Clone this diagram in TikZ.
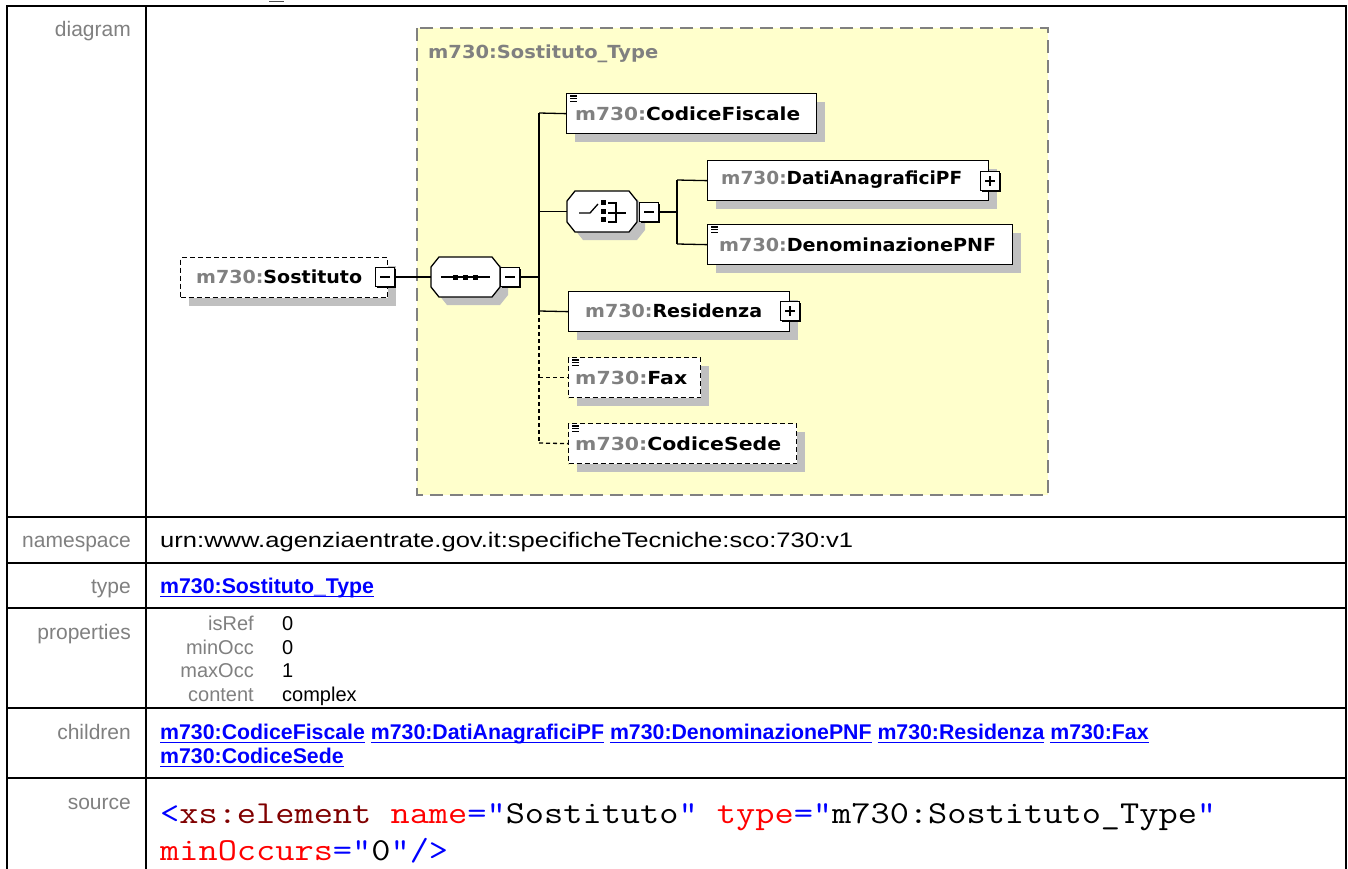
\documentclass[tikz,border=0pt]{standalone}
\usepackage{fontspec}
\usepackage{graphicx}
\setmainfont{Liberation Sans}
\newfontfamily\dfont{DejaVu Sans}
\usetikzlibrary{shadows}
\definecolor{lblgray}{HTML}{808080}
\definecolor{ybg}{HTML}{FFFFCC}
\definecolor{shgray}{HTML}{C0C0C0}
\definecolor{linkblue}{HTML}{0000FF}
\definecolor{xmaroon}{HTML}{800000}
\definecolor{xred}{HTML}{FF0000}
\newcommand{\pfx}{{\color{lblgray}m730:}}
\newcommand{\lnk}[1]{\underline{\smash{#1}\vrule width 0pt depth 1.5pt}}
\newcommand{\wfit}[2]{\resizebox{#1pt}{\height}{#2}}
\begin{document}
\begin{tikzpicture}[x=1pt,y=-1pt,
  tbl/.style={line width=2.5pt, black},
  lbl/.style={text=lblgray, font=\fontsize{21}{24}\selectfont, anchor=base east, inner sep=0},
  val/.style={text=black, font=\fontsize{21}{24}\selectfont, anchor=base west, inner sep=0},
  plbl/.style={text=lblgray, font=\fontsize{20}{22}\selectfont, anchor=base east, inner sep=0},
  pval/.style={text=black, font=\fontsize{20}{22}\selectfont, anchor=base west, inner sep=0},
  lk/.style={text=linkblue, font=\fontsize{21.3}{24}\selectfont\bfseries, anchor=base west, inner sep=0},
  src/.style={font=\fontsize{32}{36}\ttfamily, anchor=base west, inner sep=0},
  box/.style={draw=black, fill=white, line width=1.3pt, minimum height=40pt, anchor=north west, inner sep=0,
     general shadow={fill=shgray, shadow xshift=8pt, shadow yshift=-8pt}},
  dbox/.style={box, dash pattern=on 5pt off 3pt},
  dtext/.style={font=\fontsize{18}{20}\dfont\bfseries, anchor=west, inner sep=0, text=black},
  pm/.style={draw=black, fill=white, line width=1.3pt, minimum size=19pt, inner sep=0,
     general shadow={fill=black, shadow xshift=1.5pt, shadow yshift=-1.5pt}},
  conn/.style={line width=1.3pt, black},
  dconn/.style={conn, dash pattern=on 4pt off 3pt},
  ybox/.style={fill=ybg, draw=lblgray, line width=2pt, dash pattern=on 13pt off 7pt},
]
\useasboundingbox (0,0) rectangle (1348,869);
\fill[white] (0,0) rectangle (1348,869);

% cut-off text above
\draw[line width=1pt, black!70] (269,1.5) -- (284,1.5);

% ---------- table frame ----------
\draw[tbl] (7,869) -- (7,6) -- (1346,6) -- (1346,869);
\draw[tbl] (146,6) -- (146,869);
\foreach \yy in {517,563,608,708,778} \draw[tbl] (7,\yy) -- (1346,\yy);

% ---------- labels ----------
\node[lbl] (l1) at (131,37) {diagram};
\node[lbl] (l2) at (131,547) {namespace};
\node[lbl] (l3) at (131,593) {type};
\node[lbl] (l4) at (131,639) {properties};
\node[lbl] (l5) at (131,739) {children};
\node[lbl] (l6) at (131,809) {source};

% ---------- values ----------
\node[val] (ns) at (160,547) {\wfit{693}{urn:www.agenziaentrate.gov.it:specificheTecniche:sco:730:v1}};
\node[lk] (ty) at (160,593) {\lnk{m730:Sostituto\_Type}};

\node[plbl] (p1) at (254,630) {isRef};
\node[plbl] (p2) at (254,654) {minOcc};
\node[plbl] (p3) at (254,677) {maxOcc};
\node[plbl] (p4) at (254,701) {content};
\node[pval] (v1) at (282,630) {0};
\node[pval] (v2) at (282,654) {0};
\node[pval] (v3) at (282,677) {1};
\node[pval] (v4) at (282,701) {complex};

\node[lk] (ch1) at (160,739) {\lnk{m730:CodiceFiscale} \lnk{m730:DatiAnagraficiPF} \lnk{m730:DenominazionePNF} \lnk{m730:Residenza} \lnk{m730:Fax}};
\node[lk] (ch2) at (160,763) {\lnk{m730:CodiceSede}};

\node[src] (s1) at (160,823) {\scalebox{1.165}[1]{{\color{linkblue}<}{\color{xmaroon}xs:element} {\color{xred}name}{\color{linkblue}="}Sostituto{\color{linkblue}"} {\color{xred}type}{\color{linkblue}="}m730:Sostituto\_Type{\color{linkblue}"}}};
\node[src] (s2) at (160,860) {\scalebox{1.165}[1]{{\color{xred}minOccurs}{\color{linkblue}="}0{\color{linkblue}"/>}}};

% ---------- diagram ----------
\draw[ybox] (417,28) rectangle (1048,495);
\node[dtext, text=lblgray] (ttl) at (428,54) {\wfit{230}{m730:Sostituto\_Type}};

% bus
\coordinate (bt) at (539,113);
\coordinate (br) at (539,311);
\coordinate (bb) at (539,443);
\coordinate (c1) at (677,180);
\coordinate (c2) at (677,244);
\draw[conn] (bt) -- (br);
\draw[dconn] (br) -- (bb);
\draw[conn] (c1) -- (c2);

% Sostituto element
\node[dbox, minimum width=207pt] (sos) at (180,257) {};
\node[dtext] (sost) at (196,277) {\wfit{166}{\pfx Sostituto}};
\node[pm] (sosm) at (385,277) {};
\draw[line width=1.3pt] ([xshift=-5pt]sosm.center) -- ([xshift=5pt]sosm.center);

% sequence compositor
\fill[shgray] (447,265) -- (500,265) -- (508,275) -- (508,295) -- (500,305) -- (447,305) -- (439,295) -- (439,275) -- cycle;
\node[inner sep=0, minimum width=69pt, minimum height=40pt] (seq) at (465.5,277) {};
\draw[fill=white, line width=1.3pt] (439,257) -- (492,257) -- (500,267) -- (500,287) -- (492,297) -- (439,297) -- (431,287) -- (431,267) -- cycle;
\draw[line width=1.3pt] (441,277) -- (490,277);
\foreach \xx in {455,465,475} \fill ({\xx-2.5},274.5) rectangle ({\xx+2.5},279.5);
\node[pm] (seqm) at (510,277) {};
\draw[line width=1.3pt] ([xshift=-5pt]seqm.center) -- ([xshift=5pt]seqm.center);

\draw[conn] (sosm.east) -- (seq.west);
\draw[conn] (seqm.east) -- (seqm.east -| bt);

% choice compositor
\fill[shgray] (583,199) -- (637,199) -- (645,209) -- (645,230) -- (637,240) -- (583,240) -- (575,230) -- (575,209) -- cycle;
\node[inner sep=0, minimum width=70pt, minimum height=41pt] (cho) at (602,211.5) {};
\draw[fill=white, line width=1.3pt] (575,191) -- (629,191) -- (637,201) -- (637,222) -- (629,232) -- (575,232) -- (567,222) -- (567,201) -- cycle;
\draw[line width=1.3pt] (579,213) -- (590,213) -- (598,204);
\fill (601,200) rectangle (606,205);
\fill (601,208.5) rectangle (606,213.5);
\fill (601,217) rectangle (606,222);
\draw[line width=1.3pt] (608,203) -- (616,203) -- (616,222) -- (608,222);
\draw[line width=1.3pt] (608,213) -- (626,213);
\node[pm] (chm) at (649,212) {};
\draw[line width=1.3pt] ([xshift=-5pt]chm.center) -- ([xshift=5pt]chm.center);

\draw[conn] (cho.west -| bt) -- (cho.west);
\draw[conn] (chm.east) -- (chm.east -| c1);

% CodiceFiscale
\node[box, minimum width=250pt] (cf) at (566,93) {};
\node[dtext] (cft) at (575,114) {\wfit{225}{\pfx CodiceFiscale}};
\draw[conn] (bt) -- (cf.west);

% DatiAnagraficiPF
\node[box, minimum width=281pt] (da) at (707,160) {};
\node[dtext] (dat) at (721,180) {\wfit{241}{\pfx DatiAnagraficiPF}};
\node[pm] (dap) at (990,181) {};
\draw[line width=1.3pt] ([xshift=-5pt]dap.center) -- ([xshift=5pt]dap.center);
\draw[line width=1.3pt] ([yshift=-5pt]dap.center) -- ([yshift=5pt]dap.center);
\draw[conn] (c1) -- (da.west);

% DenominazionePNF
\node[box, minimum width=305pt] (dp) at (707,224) {};
\node[dtext] (dpt) at (719,245) {\wfit{277}{\pfx DenominazionePNF}};
\draw[conn] (c2) -- (dp.west);

% Residenza
\node[box, minimum width=221pt] (re) at (568,291) {};
\node[dtext] (ret) at (585,311) {\wfit{177}{\pfx Residenza}};
\node[pm] (rep) at (790,311) {};
\draw[line width=1.3pt] ([xshift=-5pt]rep.center) -- ([xshift=5pt]rep.center);
\draw[line width=1.3pt] ([yshift=-5pt]rep.center) -- ([yshift=5pt]rep.center);
\draw[conn] (br) -- (re.west);

% Fax
\node[dbox, minimum width=132pt] (fx) at (568,357) {};
\node[dtext] (fxt) at (575,378) {\wfit{112}{\pfx Fax}};
\draw[dconn] (fx.west -| bt) -- (fx.west);

% CodiceSede
\node[dbox, minimum width=228pt] (cs) at (568,423) {};
\node[dtext] (cst) at (575,444) {\wfit{206}{\pfx CodiceSede}};
\draw[dconn] (bb) -- (cs.west);

% document icons
\foreach \ix/\iy in {570/96, 711/227, 572/360, 572/426}
  \foreach \k in {0,2.6,5.2} \draw[line width=1.1pt] (\ix,{\iy+\k}) -- ({\ix+7},{\iy+\k});

\end{tikzpicture}
\end{document}
